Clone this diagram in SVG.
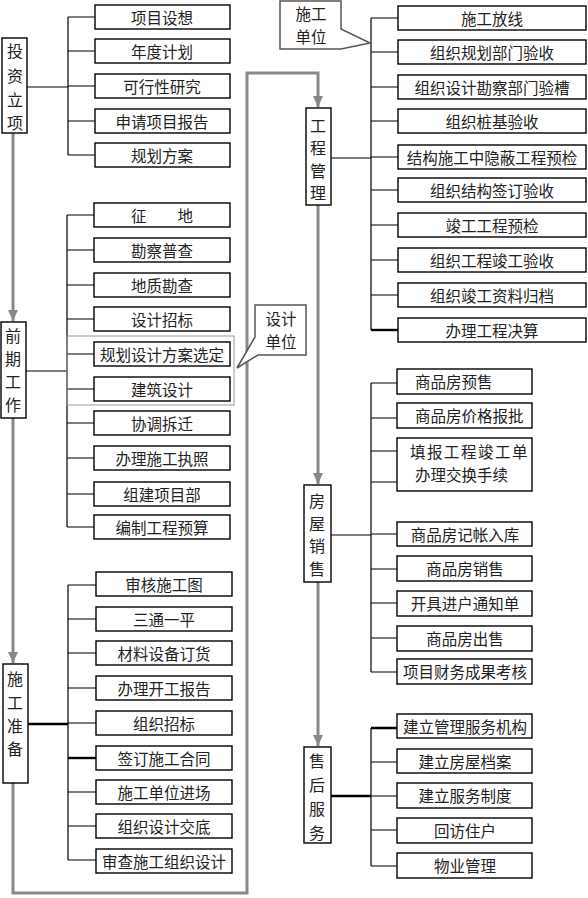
<svg xmlns="http://www.w3.org/2000/svg" width="588" height="898" viewBox="0 0 588 898">
<style>
.box{fill:#fff;stroke:#000;stroke-width:1.4}
.t{font-family:"Noto Sans CJK SC","Noto Sans",sans-serif;font-size:15.5px;fill:#222;text-anchor:middle;dominant-baseline:central}
.v{font-family:"Noto Sans CJK SC","Noto Sans",sans-serif;font-size:16px;fill:#222;text-anchor:middle;dominant-baseline:central}
.ln{stroke:#000;stroke-width:1.2;fill:none}
.th{stroke:#000;stroke-width:2.4;fill:none}
.gl{stroke:#888;stroke-width:3;fill:none}
.call{fill:#fff;stroke:#555;stroke-width:1.5}
</style>
<defs>
<marker id="ar" markerUnits="userSpaceOnUse" markerWidth="12" markerHeight="12" refX="11" refY="6" orient="auto">
<path d="M0,1 L11,6 L0,11 Z" fill="#888"/>
</marker>
</defs>
<g id="connectors">
<path class="gl" d="M13,133 V321" marker-end="url(#ar)"/>
<path class="gl" d="M13,418 V663" marker-end="url(#ar)"/>
<path class="gl" d="M13,783 V893 H247 V73 H318 V107" marker-end="url(#ar)"/>
<path class="gl" d="M318,205 V484" marker-end="url(#ar)"/>
<path class="gl" d="M318,582 V746" marker-end="url(#ar)"/>
<path class="ln" d="M27,87 H68 M68,17 V155 M68,17 H95 M68,51 H95 M68,86 H95 M68,121 H95 M68,155 H95"/>
<path class="ln" d="M26,371 H67 M67,215 V527 M67,215 H94 M67,250 H94 M67,285 H94 M67,319 H94 M67,354 H94 M67,389 H94 M67,423 H94 M67,458 H94 M67,494 H94 M67,527 H94"/>
<rect x="67" y="336" width="167" height="69" fill="none" stroke="#999" stroke-width="1"/>
<path class="th" d="M28,724 H68"/>
<path class="ln" d="M68,585 V860 M68,585 H96 M68,619 H96 M68,653 H96 M68,688 H96 M68,723 H96 M68,792 H96 M68,826 H96 M68,860 H96"/>
<path class="th" d="M68,758 H96"/>
<path class="ln" d="M331,158 H371 M371,18 V330 M371,18 H398 M371,52 H398 M371,87 H398 M371,121 H398 M371,157 H398 M371,190 H398 M371,225 H398 M371,260 H398 M371,295 H398"/>
<path class="th" d="M371,330 H398"/>
<path class="ln" d="M331,535 H371 M371,383 V672 M371,383 H397 M371,418 H397 M371,451 H397 M371,482 H397 M371,534 H397 M371,569 H397 M371,603 H397 M371,638 H397 M371,672 H397"/>
<path class="th" d="M331,796 H371 M371,728 H397"/>
<path class="ln" d="M371,728 V866 M371,762 H397 M371,796 H397 M371,830 H397 M371,866 H397"/>
</g>
<g id="n-touzi"><rect class="box" x="2" y="38" width="25" height="95"/>
<text class="v" x="15" y="50">投</text><text class="v" x="15" y="75">资</text><text class="v" x="15" y="99">立</text><text class="v" x="15" y="122">项</text></g>
<g id="n-qianqi"><rect class="box" x="1" y="322" width="25" height="96"/>
<text class="v" x="13" y="335">前</text><text class="v" x="13" y="358">期</text><text class="v" x="13" y="381">工</text><text class="v" x="13" y="404">作</text></g>
<g id="n-zhunbei"><rect class="box" x="3" y="664" width="25" height="119"/>
<text class="v" x="15" y="678">施</text><text class="v" x="15" y="702">工</text><text class="v" x="15" y="725">准</text><text class="v" x="15" y="748">备</text></g>
<g id="n-guanli"><rect class="box" x="306" y="108" width="25" height="97"/>
<text class="v" x="318" y="125">工</text><text class="v" x="318" y="147">程</text><text class="v" x="318" y="170">管</text><text class="v" x="318" y="192">理</text></g>
<g id="n-xiaoshou"><rect class="box" x="304" y="485" width="27" height="97"/>
<text class="v" x="317" y="500">房</text><text class="v" x="317" y="523">屋</text><text class="v" x="317" y="545">销</text><text class="v" x="317" y="568">售</text></g>
<g id="n-shouhou"><rect class="box" x="304" y="747" width="27" height="96"/>
<text class="v" x="317" y="760">售</text><text class="v" x="317" y="784">后</text><text class="v" x="317" y="808">服</text><text class="v" x="317" y="832">务</text></g>
<g id="c-sjdw"><path class="call" d="M255,305 H306 V355 H258 L237,368 L255,337 Z"/>
<text class="t" x="281" y="318">设计</text><text class="t" x="281" y="341">单位</text></g>
<g id="c-sgdw"><path class="call" d="M280,1 H341 V29 L370,43 L341,49 H280 Z"/>
<text class="t" x="311" y="13">施工</text><text class="t" x="311" y="36">单位</text></g>
<g id="l1">
<g id="b1"><rect class="box" x="95" y="5" width="135" height="24"/><text class="t" x="162" y="17">项目设想</text></g>
<g id="b2"><rect class="box" x="95" y="39" width="135" height="24"/><text class="t" x="162" y="51">年度计划</text></g>
<g id="b3"><rect class="box" x="95" y="74" width="135" height="24"/><text class="t" x="162" y="86">可行性研究</text></g>
<g id="b4"><rect class="box" x="95" y="109" width="135" height="24"/><text class="t" x="162" y="121">申请项目报告</text></g>
<g id="b5"><rect class="box" x="95" y="143" width="135" height="24"/><text class="t" x="162" y="155">规划方案</text></g>
</g>
<g id="l2">
<g id="b6"><rect class="box" x="94" y="203" width="136" height="24"/><text class="t" x="162" y="215">征　　地</text></g>
<g id="b7"><rect class="box" x="94" y="238" width="136" height="24"/><text class="t" x="162" y="250">勘察普查</text></g>
<g id="b8"><rect class="box" x="94" y="273" width="136" height="24"/><text class="t" x="162" y="285">地质勘查</text></g>
<g id="b9"><rect class="box" x="94" y="307" width="136" height="24"/><text class="t" x="162" y="319">设计招标</text></g>
<g id="b10"><rect class="box" x="94" y="342" width="136" height="24"/><text class="t" x="162" y="354">规划设计方案选定</text></g>
<g id="b11"><rect class="box" x="94" y="377" width="136" height="24"/><text class="t" x="162" y="389">建筑设计</text></g>
<g id="b12"><rect class="box" x="94" y="411" width="136" height="24"/><text class="t" x="162" y="423">协调拆迁</text></g>
<g id="b13"><rect class="box" x="94" y="446" width="136" height="24"/><text class="t" x="162" y="458">办理施工执照</text></g>
<g id="b14"><rect class="box" x="94" y="482" width="136" height="24"/><text class="t" x="162" y="494">组建项目部</text></g>
<g id="b15"><rect class="box" x="94" y="515" width="136" height="24"/><text class="t" x="162" y="527">编制工程预算</text></g>
</g>
<g id="l3">
<g id="b16"><rect class="box" x="96" y="572" width="136" height="24"/><text class="t" x="164" y="584">审核施工图</text></g>
<g id="b17"><rect class="box" x="96" y="607" width="136" height="24"/><text class="t" x="164" y="619">三通一平</text></g>
<g id="b18"><rect class="box" x="96" y="641" width="136" height="24"/><text class="t" x="164" y="653">材料设备订货</text></g>
<g id="b19"><rect class="box" x="96" y="676" width="136" height="24"/><text class="t" x="164" y="688">办理开工报告</text></g>
<g id="b20"><rect class="box" x="96" y="711" width="136" height="24"/><text class="t" x="164" y="723">组织招标</text></g>
<g id="b21"><rect class="box" x="96" y="746" width="136" height="24"/><text class="t" x="164" y="758">签订施工合同</text></g>
<g id="b22"><rect class="box" x="96" y="780" width="136" height="24"/><text class="t" x="164" y="792">施工单位进场</text></g>
<g id="b23"><rect class="box" x="96" y="814" width="136" height="24"/><text class="t" x="164" y="826">组织设计交底</text></g>
<g id="b24"><rect class="box" x="96" y="849" width="136" height="24"/><text class="t" x="164" y="861">审查施工组织设计</text></g>
</g>
<g id="r1">
<g id="b25"><rect class="box" x="398" y="6" width="188" height="24"/><text class="t" x="492" y="18">施工放线</text></g>
<g id="b26"><rect class="box" x="398" y="40" width="188" height="24"/><text class="t" x="492" y="52">组织规划部门验收</text></g>
<g id="b27"><rect class="box" x="398" y="75" width="188" height="24"/><text class="t" x="492" y="87">组织设计勘察部门验槽</text></g>
<g id="b28"><rect class="box" x="398" y="109" width="188" height="24"/><text class="t" x="492" y="121">组织桩基验收</text></g>
<g id="b29"><rect class="box" x="398" y="145" width="188" height="24"/><text class="t" x="492" y="157">结构施工中隐蔽工程预检</text></g>
<g id="b30"><rect class="box" x="398" y="178" width="188" height="24"/><text class="t" x="492" y="190">组织结构签订验收</text></g>
<g id="b31"><rect class="box" x="398" y="213" width="188" height="24"/><text class="t" x="492" y="225">竣工工程预检</text></g>
<g id="b32"><rect class="box" x="398" y="248" width="188" height="24"/><text class="t" x="492" y="260">组织工程竣工验收</text></g>
<g id="b33"><rect class="box" x="398" y="283" width="188" height="24"/><text class="t" x="492" y="295">组织竣工资料归档</text></g>
<g id="b34"><rect class="box" x="398" y="318" width="188" height="24"/><text class="t" x="492" y="330">办理工程决算</text></g>
</g>
<g id="r2">
<g id="b35"><rect class="box" x="397" y="369" width="135" height="25"/><text class="t" x="415" y="381" style="text-anchor:start">商品房预售</text></g>
<g id="b36"><rect class="box" x="397" y="403" width="135" height="25"/><text class="t" x="415" y="415" style="text-anchor:start">商品房价格报批</text></g>
<g id="b37"><rect class="box" x="397" y="438" width="135" height="53"/><text class="t" x="410" y="451" style="text-anchor:start;letter-spacing:1.5px">填报工程竣工单</text><text class="t" x="415" y="474" style="text-anchor:start">办理交换手续</text></g>
<g id="b38"><rect class="box" x="397" y="522" width="135" height="24"/><text class="t" x="465" y="534">商品房记帐入库</text></g>
<g id="b39"><rect class="box" x="397" y="556" width="135" height="25"/><text class="t" x="465" y="568">商品房销售</text></g>
<g id="b40"><rect class="box" x="397" y="591" width="135" height="25"/><text class="t" x="465" y="603">开具进户通知单</text></g>
<g id="b41"><rect class="box" x="397" y="626" width="135" height="25"/><text class="t" x="465" y="638">商品房出售</text></g>
<g id="b42"><rect class="box" x="397" y="659" width="135" height="25"/><text class="t" x="465" y="671">项目财务成果考核</text></g>
</g>
<g id="r3">
<g id="b43"><rect class="box" x="397" y="714" width="135" height="24"/><text class="t" x="465" y="726">建立管理服务机构</text></g>
<g id="b44"><rect class="box" x="397" y="749" width="135" height="24"/><text class="t" x="465" y="761">建立房屋档案</text></g>
<g id="b45"><rect class="box" x="397" y="783" width="135" height="25"/><text class="t" x="465" y="795">建立服务制度</text></g>
<g id="b46"><rect class="box" x="397" y="818" width="135" height="25"/><text class="t" x="465" y="830">回访住户</text></g>
<g id="b47"><rect class="box" x="397" y="853" width="135" height="25"/><text class="t" x="465" y="865">物业管理</text></g>
</g>
</svg>
